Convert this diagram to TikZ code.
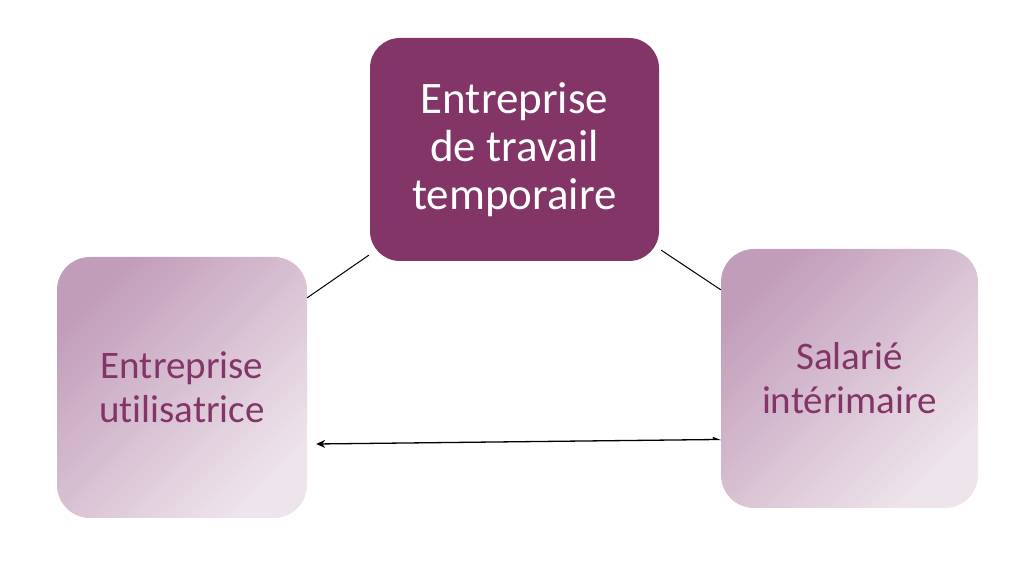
\documentclass[tikz,border=0pt]{standalone}
\usepackage{fontspec}
\setmainfont[Ligatures=NoCommon]{Carlito}
\usetikzlibrary{arrows.meta}

\definecolor{prune}{HTML}{843567}
\definecolor{mauveA}{HTML}{C29DBA}
\definecolor{mauveB}{HTML}{EEE4EB}

\begin{document}
\begin{tikzpicture}[x=1pt,y=1pt,
    mainbox/.style={fill=prune, text=white, rounded corners=30pt,
      minimum width=289pt, minimum height=223pt, align=center,
      font=\fontsize{45}{48}\selectfont},
    sidebox/.style={top color=mauveA, bottom color=mauveB, shading angle=45,
      text=prune, rounded corners=33pt, align=center,
      font=\fontsize{39}{44}\selectfont}]
  \useasboundingbox (0,0) rectangle (1026,568);

  \node[mainbox] (ett) at (514.5,418.5) {Entreprise\\de travail\\temporaire};
  \node[sidebox, minimum width=250pt, minimum height=261pt] (util) at (182,180.5) {Entreprise\\utilisatrice};
  \node[sidebox, minimum width=257pt, minimum height=259pt] (sal) at (849.5,189.5) {Salarié\\intérimaire};

  \draw[line width=1pt] ([yshift=-41pt]util.north east) -- ([xshift=-1pt,yshift=6pt]ett.south west);
  \draw[line width=1pt] ([xshift=2pt,yshift=11pt]ett.south east) -- ([yshift=-41pt]sal.north west);
  \draw[line width=1.3pt, -{Stealth[length=9pt,width=8pt]}]
    ([xshift=-8pt,yshift=-59pt]sal.west) -- ([xshift=-3pt,yshift=-61pt]sal.west)
    -- ([xshift=9pt,yshift=-56.5pt]util.east);
\end{tikzpicture}
\end{document}
